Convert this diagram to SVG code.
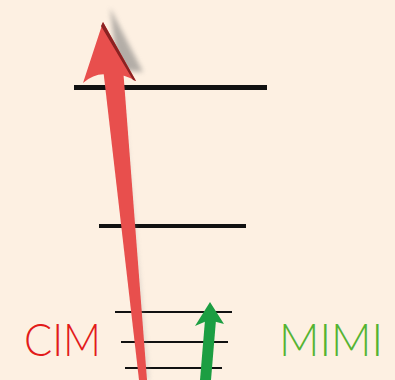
<svg xmlns="http://www.w3.org/2000/svg" width="395" height="380" viewBox="0 0 395 380">
<defs>
<style>
.lvl{stroke:#111;stroke-linecap:butt}
.lbl{font-family:Lato,"Liberation Sans",Arial,sans-serif;font-weight:300;font-size:46px}
</style>
<filter id="blur" x="-50%" y="-50%" width="200%" height="200%"><feGaussianBlur stdDeviation="2.5"/></filter>
<filter id="soft" x="-20%" y="-20%" width="140%" height="140%"><feGaussianBlur stdDeviation="0.6"/></filter>
</defs>
<rect width="395" height="380" fill="#FDF0E2"/>
<g id="levels">
<line class="lvl" x1="74" y1="87.5" x2="267" y2="87.5" stroke-width="5"/>
<line class="lvl" x1="99" y1="226" x2="246" y2="226" stroke-width="4"/>
<line class="lvl" x1="115" y1="312" x2="232" y2="312" stroke-width="2"/>
<line class="lvl" x1="121" y1="342" x2="228" y2="342" stroke-width="2"/>
<line class="lvl" x1="125" y1="368" x2="222" y2="368" stroke-width="2"/>
</g>
<g id="red-arrow">
<polygon points="110,8 143,72 118,70" fill="#777" opacity="0.55" filter="url(#blur)"/>
<polygon points="122,85 149,380 145,380 118,85" fill="#999" opacity="0.35" filter="url(#blur)"/>
<g filter="url(#soft)">
<polygon points="103,68 123,68 147,380 139,380" fill="#E8504E"/>
<path d="M103,22 L136,81 Q120,72 109,75 Q96,72 83,83 Z" fill="#E8504E"/>
<path d="M103,22 L136,81 L133,80 L101,26 Z" fill="#8A2020"/>
</g>
</g>
<g id="green-arrow" filter="url(#soft)">
<polygon points="205,320 216,320 211,380 200,380" fill="#1E9E42"/>
<polygon points="210,302 224,324 209,320 195,326" fill="#1E9E42"/>
</g>
<g id="labels">
<text class="lbl" x="24" y="356" fill="#E21B1B" textLength="77" lengthAdjust="spacingAndGlyphs">CIM</text>
<text class="lbl" x="279" y="356" fill="#55B432" textLength="104" lengthAdjust="spacingAndGlyphs">MIMI</text>
</g>
</svg>
